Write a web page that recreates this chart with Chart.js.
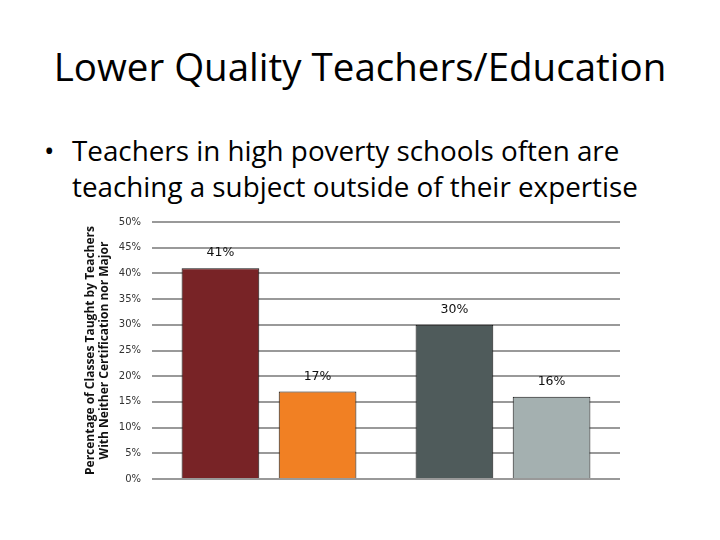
<!DOCTYPE html>
<html>
<head>
<meta charset="utf-8">
<script src="https://cdn.jsdelivr.net/npm/chart.js@4.4.1/dist/chart.umd.min.js"></script>
<style>
  body { margin: 0; width: 720px; height: 540px; background: #fff; position: relative; overflow: hidden; font-family: "Open Sans", sans-serif; }
  #title { position: absolute; left: 0; width: 720px; top: 40px; text-align: center; font-size: 38.5px; color: #000; white-space: nowrap; }
  #bullet { position: absolute; left: 44px; top: 132px; font-size: 27.8px; line-height: 36px; color: #000; }
  #bullet span.dot { position: absolute; left: 0; }
  #bullet div { padding-left: 28px; white-space: nowrap; }
  #wrap { position: absolute; left: 70px; top: 210px; width: 560px; height: 280px; }
</style>
</head>
<body>
<div id="title">Lower Quality Teachers/Education</div>
<div id="bullet"><span class="dot">•</span><div>Teachers in high poverty schools often are</div><div>teaching a subject outside of their expertise</div></div>
<div id="wrap"><canvas id="chartBar" width="560" height="280"></canvas></div>
<script>
const categories = ["A", "B"];
const seriesFirst = [41, 30];
const seriesSecond = [17, 16];
const firstColors = ["rgb(120, 35, 38)", "rgb(79, 91, 91)"];
const secondColors = ["rgb(241, 128, 35)", "rgb(164, 176, 176)"];
const yTicks = [0, 5, 10, 15, 20, 25, 30, 35, 40, 45, 50];

// labels above each bar
const barLabels = {
  id: "barLabels",
  afterDatasetsDraw(chart) {
    const ctx = chart.ctx;
    ctx.save();
    ctx.font = "12.5px 'DejaVu Sans'";
    ctx.fillStyle = "#111";
    ctx.textAlign = "center";
    ctx.textBaseline = "bottom";
    chart.data.datasets.forEach((ds, i) => {
      chart.getDatasetMeta(i).data.forEach((bar, j) => {
        ctx.fillText(ds.data[j] + "%", bar.x, bar.y - 9);
      });
    });
    ctx.restore();
  }
};

new Chart(document.getElementById("chartBar"), {
  type: "bar",
  data: {
    labels: categories,
    datasets: [
      { data: seriesFirst, backgroundColor: firstColors, borderColor: "#111", borderWidth: 1 },
      { data: seriesSecond, backgroundColor: secondColors, borderColor: "#111", borderWidth: 1 }
    ]
  },
  options: {
    responsive: false,
    animation: false,
    devicePixelRatio: 1,
    categoryPercentage: 0.83,
    barPercentage: 0.8,
    layout: { padding: { left: 0, right: 10, top: 12, bottom: 11 } },
    plugins: { legend: { display: false }, tooltip: { enabled: false } },
    scales: {
      x: { display: false },
      y: {
        min: 0,
        max: 50,
        afterBuildTicks(scale) { scale.ticks = yTicks.map(v => ({ value: v })); },
        afterFit(scale) { scale.width = 82; scale.paddingTop = 0; scale.paddingBottom = 0; },
        border: { display: false },
        grid: { color: "#999", lineWidth: 2, drawTicks: false },
        ticks: {
          autoSkip: false,
          padding: 11,
          color: "#333",
          font: { family: "DejaVu Sans", size: 10 },
          callback: v => v + "%"
        },
        title: {
          display: true,
          text: ["Percentage of Classes Taught by Teachers", "With Neither Certification nor Major"],
          color: "#111",
          font: { family: "Open Sans", size: 12, weight: "bold", lineHeight: 1.15 },
          padding: { top: 14, bottom: 0 }
        }
      }
    }
  },
  plugins: [barLabels]
});
</script>
</body>
</html>
